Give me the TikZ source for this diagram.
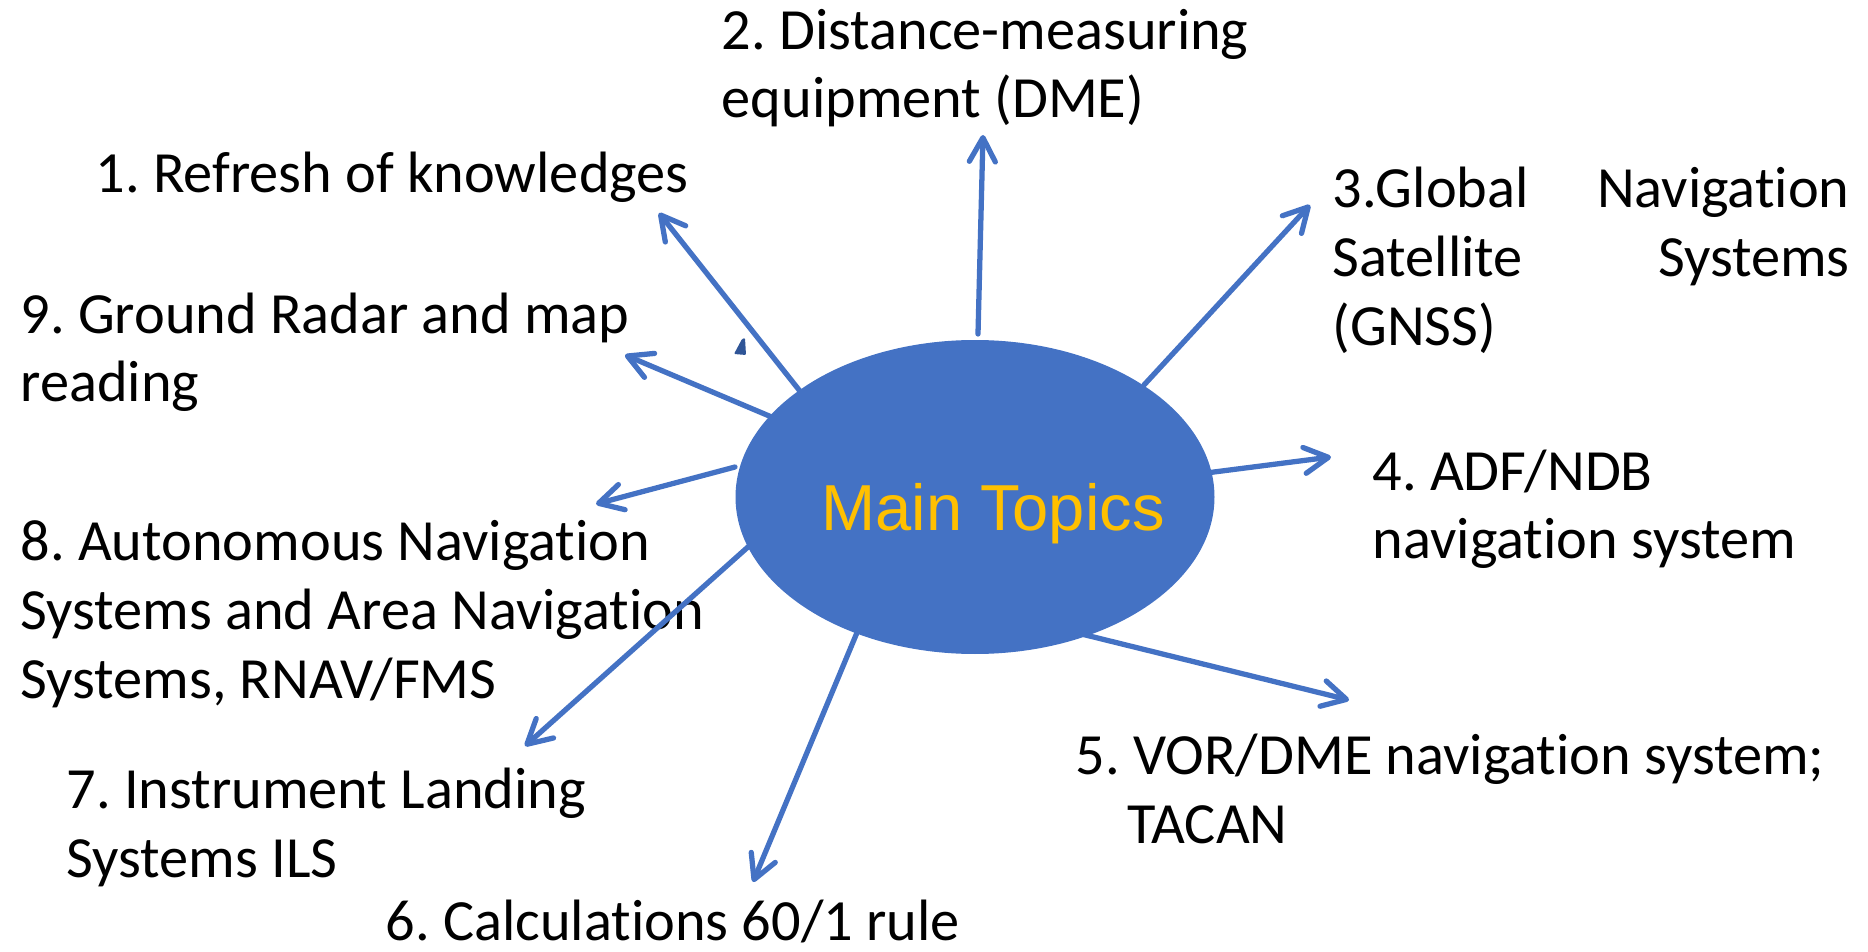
\documentclass[tikz,border=0pt]{standalone}
\usepackage{fontspec}
\setmainfont{Carlito}[Ligatures=NoCommon]
\newfontfamily\titlefont{Liberation Sans}
\usetikzlibrary{arrows.meta,shapes.geometric}
\frenchspacing

\definecolor{topicblue}{HTML}{4472C4}
\definecolor{titleyellow}{HTML}{FFC000}
\definecolor{markblue}{HTML}{2F5597}

\tikzset{
  topic/.style={anchor=base west, align=left, inner sep=0pt, font=\fontsize{16.6}{19.6}\selectfont},
  hub/.style={ellipse, fill=topicblue, inner sep=0pt, minimum width=47.9mm, minimum height=31.4mm},
  spoke/.style={draw=topicblue, line width=1.5pt, line cap=round, -{Straight Barb[length=2.4mm,width=2.6mm,round]}}
}

\begin{document}
\begin{tikzpicture}[x=0.1mm, y=-0.1mm]
	\useasboundingbox (0,0) rectangle (1868,952);
	
	% Define the centre ellipse
	\node[hub] (main) at (975,497) {};
	\node[anchor=base, inner sep=0pt, text=titleyellow, font=\titlefont\fontsize{18.5}{22}\selectfont] (title) at (993,530) {Main Topics};
	
	% Define nodes for the topics (multi-line ones sit on their last line)
	\node[topic] (refresh) at (95,193) {1. Refresh of knowledges};
	\node[topic] (dme) at (721,118) {2. Distance-measuring\\equipment (DME)};
	\node[topic, text width=51.7mm] (gnss) at (1332,208) {3.Global\hfill Navigation\\Satellite\hfill Systems\\(GNSS)};
	\node[topic] (adf) at (1372,559) {4. ADF/NDB\\navigation system};
	\node[topic] (vor) at (1075,843) {5. VOR/DME navigation system;\\\hspace*{5.2mm}TACAN};
	\node[topic] (calc) at (385,940) {6. Calculations 60/1 rule};
	\node[topic] (ils) at (66,877) {7. Instrument Landing\\Systems ILS};
	\node[topic] (rnav) at (20,698) {8. Autonomous Navigation\\Systems and Area Navigation\\Systems, RNAV/FMS};
	\node[topic] (radar) at (20,402) {9. Ground Radar and map\\reading};
	
	% Define start and end points of the arrows
	\foreach \n/\sx/\sy/\tx/\ty in {1/822/419/659/213, 2/978/334/983/135, 3/1144/385/1310/205,
		4/1175/477/1331/457, 5/1045/625/1349/700, 6/861/623/753/882,
		7/767/530/525/746, 8/735/467/596/504, 9/852/451/625/355}
	{
		\coordinate (s\n) at (\sx,\sy);
		\coordinate (t\n) at (\tx,\ty);
	}
	
	% Draw the arrows
	\foreach \n in {1,...,9}
	\draw[spoke] (s\n) -- (t\n);
	
	% Small mark
	\fill[markblue, rounded corners=0.3pt] (734,354) -- (742,339) -- (745,338) -- (746,355) -- cycle;
\end{tikzpicture}
\end{document}
